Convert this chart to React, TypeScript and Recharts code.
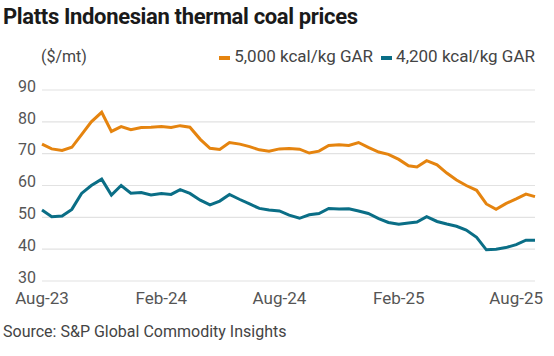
import { LineChart, Line, XAxis, YAxis, CartesianGrid, Legend } from "recharts";

const dates = [
  "2023-08-01", "2023-08-16", "2023-09-01", "2023-09-16", "2023-10-01", "2023-10-16",
  "2023-11-01", "2023-11-16", "2023-12-01", "2023-12-16",
  "2024-01-01", "2024-01-16", "2024-02-01", "2024-02-16", "2024-03-01", "2024-03-16",
  "2024-04-01", "2024-04-16", "2024-05-01", "2024-05-16", "2024-06-01", "2024-06-16",
  "2024-07-01", "2024-07-16", "2024-08-01", "2024-08-16", "2024-09-01", "2024-09-16",
  "2024-10-01", "2024-10-16", "2024-11-01", "2024-11-16", "2024-12-01", "2024-12-16",
  "2025-01-01", "2025-01-16", "2025-02-01", "2025-02-16", "2025-03-01", "2025-03-16",
  "2025-04-01", "2025-04-16", "2025-05-01", "2025-05-16", "2025-06-01", "2025-06-16",
  "2025-07-01", "2025-07-16", "2025-08-01", "2025-08-16", "2025-08-30",
];

// 5,000 kcal/kg GAR
const gar5000 = [
  73, 71.5, 71, 72, 76, 80, 83, 77, 78.5, 77.5,
  78.2, 78.3, 78.5, 78.2, 78.8, 78.3, 74.5, 71.7, 71.3, 73.5,
  73, 72.2, 71.2, 70.8, 71.5, 71.6, 71.4, 70.2, 70.8, 72.6,
  72.8, 72.6, 73.5, 72, 70.5, 69.8, 68.2, 66.2, 65.8, 67.8,
  66.5, 63.9, 61.7, 60, 58.5, 54.2, 52.5, 54.3, 55.8, 57.3, 56.5,
];

// 4,200 kcal/kg GAR
const gar4200 = [
  52.3, 50.2, 50.4, 52.5, 57.5, 60, 62, 57, 60, 57.6,
  57.8, 57, 57.5, 57.2, 58.7, 57.5, 55.4, 53.9, 55.1, 57.2,
  55.6, 54.2, 52.8, 52.3, 52, 50.7, 49.7, 50.8, 51.2, 52.8,
  52.6, 52.7, 52, 51.2, 49.6, 48.4, 47.8, 48.2, 48.5, 50.2,
  48.7, 47.9, 47.2, 46, 43.7, 39.8, 40, 40.5, 41.4, 42.8, 42.8,
];

const tickDates = ["2023-08-01", "2024-02-01", "2024-08-01", "2025-02-01", "2025-08-01"];
const tickLabels = ["Aug-23", "Feb-24", "Aug-24", "Feb-25", "Aug-25"];
const yTicks = [30, 40, 50, 60, 70, 80, 90];

const ORANGE = "#e5840f";
const TEAL = "#0a6e86";
const FONT = "Roboto, 'DejaVu Sans', sans-serif";

const data = dates.map((d, i) => ({
  t: Date.parse(d),
  a: gar5000[i],
  b: gar4200[i],
}));

const xTicks = tickDates.map((d) => Date.parse(d));

function LegendContent() {
  const items = [
    { label: "5,000 kcal/kg GAR", color: ORANGE },
    { label: "4,200 kcal/kg GAR", color: TEAL },
  ];
  return (
    <div style={{ display: "flex", justifyContent: "flex-end", gap: 8, fontFamily: FONT, fontSize: 17, color: "#444" }}>
      {items.map((it) => (
        <div key={it.label} style={{ display: "flex", alignItems: "center" }}>
          <span style={{ display: "inline-block", width: 11, height: 4, background: it.color, marginRight: 4, marginTop: 3 }} />
          <span>{it.label}</span>
        </div>
      ))}
    </div>
  );
}

export default function App() {
  return (
    <div style={{ position: "absolute", left: 0, top: 0, width: 554, height: 356, background: "#fff", fontFamily: FONT }}>
      <div style={{ position: "absolute", left: 3, top: 4, fontSize: 22, fontWeight: 700, color: "#1a1a1a", letterSpacing: -0.35 }}>
        Platts Indonesian thermal coal prices
      </div>
      <div style={{ position: "absolute", left: 41, top: 47, fontSize: 16, color: "#444" }}>($/mt)</div>
      <LineChart width={554} height={356} data={data} margin={{ top: 70, right: 19, bottom: 45, left: 2 }}>
        <CartesianGrid vertical={false} stroke="#e2e2e2" strokeWidth={1.2} />
        <XAxis
          dataKey="t"
          type="number"
          scale="time"
          domain={[Date.parse("2023-08-01"), Date.parse("2025-08-30")]}
          ticks={xTicks}
          tickFormatter={(v: number) => tickLabels[xTicks.indexOf(v)] ?? ""}
          axisLine={false}
          tickLine={false}
          tickSize={0}
          tickMargin={11}
          height={30}
          interval={0}
          tick={{ fill: "#555", fontSize: 17, fontFamily: FONT }}
        />
        <YAxis
          domain={[30, 90]}
          ticks={yTicks}
          axisLine={false}
          tickLine={false}
          tickSize={0}
          tickMargin={6}
          width={40}
          interval={0}
          tick={{ fill: "#555", fontSize: 16, fontFamily: FONT, dy: -4 }}
        />
        <Legend verticalAlign="top" content={<LegendContent />} wrapperStyle={{ top: 46, right: 19, left: "auto", width: 420 }} />
        <Line type="linear" dataKey="a" stroke={ORANGE} strokeWidth={3} dot={false} isAnimationActive={false} />
        <Line type="linear" dataKey="b" stroke={TEAL} strokeWidth={3} dot={false} isAnimationActive={false} />
      </LineChart>
      <div style={{ position: "absolute", left: 3, top: 322, fontSize: 16, color: "#444" }}>
        Source: S&amp;P Global Commodity Insights
      </div>
    </div>
  );
}
